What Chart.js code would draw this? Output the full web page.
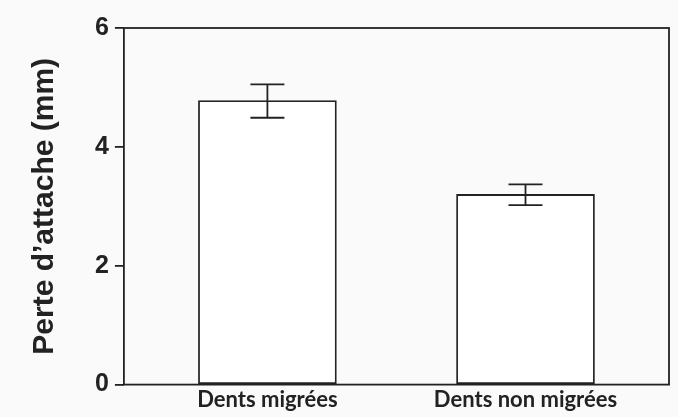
<!DOCTYPE html>
<html><head><meta charset="utf-8">
<script src="https://cdn.jsdelivr.net/npm/chart.js@4"></script>
<style>html,body{margin:0;padding:0;background:#fafafa;}#wrap{width:678px;height:417px;}</style>
</head><body><div id="wrap"><canvas id="c" width="678" height="417"></canvas></div>
<script>
const categories = ["Dents migrées", "Dents non migrées"];
const meanValues = [4.78, 3.20];
const errorHigh = [5.05, 3.37];
const errorLow = [4.49, 3.02];
const yTicks = [0, 2, 4, 6];
const yTitle = "Perte d\u2019attache (mm)";

const ink = '#222';

const errorBars = {
  id: 'errorBars',
  afterDatasetsDraw(chart) {
    const {ctx, scales: {x, y}} = chart;
    ctx.save();
    ctx.strokeStyle = ink;
    ctx.lineWidth = 1.8;
    categories.forEach((c, i) => {
      const px = x.getPixelForValue(i);
      const hi = y.getPixelForValue(errorHigh[i]);
      const lo = y.getPixelForValue(errorLow[i]);
      const w = 17;
      ctx.beginPath();
      ctx.moveTo(px, hi); ctx.lineTo(px, lo);
      ctx.moveTo(px - w, hi); ctx.lineTo(px + w, hi);
      ctx.moveTo(px - w, lo); ctx.lineTo(px + w, lo);
      ctx.stroke();
    });
    ctx.restore();
  }
};

const frame = {
  id: 'frame',
  afterDraw(chart) {
    const {ctx, chartArea: a} = chart;
    ctx.save();
    ctx.strokeStyle = ink;
    ctx.lineWidth = 1.8;
    ctx.strokeRect(a.left, a.top, a.right - a.left, a.bottom - a.top);
    ctx.restore();
  }
};

new Chart(document.getElementById('c'), {
  type: 'bar',
  data: {
    datasets: [{
      data: meanValues.map((v, i) => ({x: i, y: v})),
      backgroundColor: '#ffffff',
      borderColor: ink,
      borderWidth: 1.8,
      borderSkipped: false,
      barThickness: 138
    }]
  },
  options: {
    responsive: false,
    animation: false,
    devicePixelRatio: 1,
    layout: {padding: {left: 27, right: 9, top: 28, bottom: 2}},
    plugins: {legend: {display: false}, tooltip: {enabled: false}},
    scales: {
      x: {
        type: 'linear',
        offset: false,
        min: -0.556,
        max: 1.556,
        afterBuildTicks: (s) => { s.ticks = categories.map((c, i) => ({value: i})); },
        grid: {display: false, offset: false, tickLength: 0},
        border: {display: false},
        ticks: {
          autoSkip: false,
          maxRotation: 0,
          padding: 2,
          color: ink,
          font: {family: 'Lato', weight: 'bold', size: 22},
          callback: (v) => categories[v]
        }
      },
      y: {
        min: 0,
        max: 6,
        afterBuildTicks: (s) => { s.ticks = yTicks.map(v => ({value: v})); },
        grid: {drawOnChartArea: false, drawTicks: true, tickLength: 9, color: ink, lineWidth: 1.8},
        border: {display: false},
        ticks: {
          padding: 6,
          color: ink,
          font: {family: 'Liberation Sans', weight: 'bold', size: 25}
        },
        title: {
          display: true,
          text: yTitle,
          color: ink,
          padding: {top: 0, bottom: 26},
          font: {family: 'Liberation Sans', weight: 'bold', size: 30}
        }
      }
    }
  },
  plugins: [errorBars, frame]
});
</script>
</body></html>
